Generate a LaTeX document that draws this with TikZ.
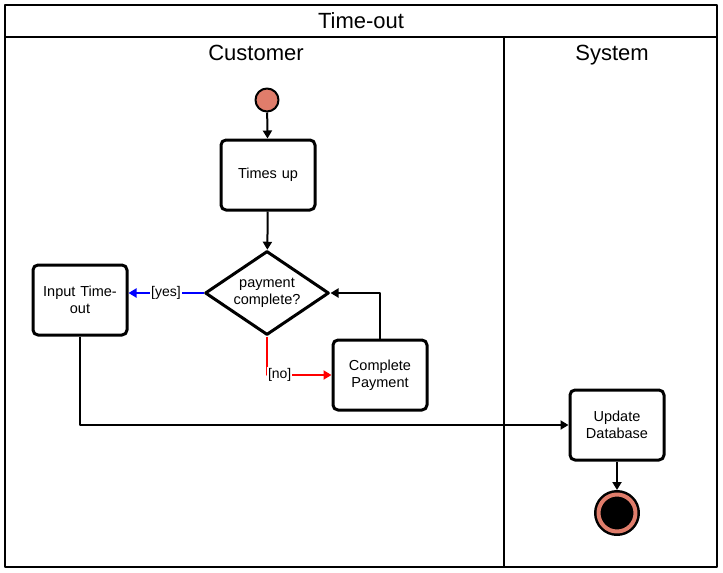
\documentclass[tikz,border=0pt]{standalone}
\usepackage{fontspec}
\setmainfont{Liberation Sans}
\usetikzlibrary{arrows.meta,shapes.geometric}
\definecolor{salmon}{RGB}{224,125,107}
\begin{document}
\begin{tikzpicture}[x=1pt,y=-1pt, line join=round, >={Triangle[length=8pt,width=9pt]},
	act/.style={draw, line width=3pt, rounded corners=5pt, minimum width=94pt, minimum height=70pt, text width=80pt, align=center, inner sep=0pt, outer sep=1.5pt, font=\fontsize{14.5}{17.5}\selectfont},
	decision/.style={draw, diamond, aspect=1.47, line width=3pt, minimum width=124pt, minimum height=84pt, inner sep=0pt, align=center, outer sep=1.5pt, font=\fontsize{14.5}{17.5}\selectfont},
	guard/.style={fill=white, inner sep=1pt, text=black, font=\fontsize{14}{16}\selectfont},
	flow/.style={line width=2pt},
	lanetitle/.style={text height=15pt, text depth=4pt, font=\fontsize{22}{25}\selectfont}]
	\useasboundingbox (0,0) rectangle (723,573);
	% swimlanes
	\draw[line width=2pt] (5,5) rectangle (717,567)
	(5,37)--(717,37)
	(504,37)--(504,567);
	\path
	(361,23) node[lanetitle] (pool) {Time-out}
	(256,55) node[lanetitle] (customer) {Customer}
	(612,55) node[lanetitle] (system) {System};
	% nodes
	\node[circle, draw, line width=2pt, fill=salmon, minimum size=23pt, inner sep=0pt] (start) at (267,100) {};
	\node[act] (timesup) at (268,175) {Times up};
	\node[decision] (decide) at (267,293) {payment\\complete?};
	\node[act] (input) at (80,300) {Input Time-\\out};
	\node[act] (pay) at (380,375) {Complete\\Payment};
	\node[act] (update) at (617,425) {Update\\Database};
	\node[circle, draw=black, double=salmon, double distance=4pt, line width=2.5pt, fill=black, minimum size=37pt, inner sep=0pt, outer sep=4.5pt] (finish) at (617,513) {};
	% edges
	\draw[flow,->] (start)--(timesup);
	\draw[flow,->] (timesup)--(decide);
	\draw[flow,->,blue] (decide.west)-- node[guard] {[yes]} (decide.west -| input.east);
	\draw[flow,->,red] (decide.south) |- node[guard, anchor=west, xshift=-1pt] {[no]} (pay);
	\draw[flow,->] (pay.north) |- (decide.east);
	\draw[flow,->] (input.south) |- (update.west);
	\draw[flow,->] (update)--(finish);
\end{tikzpicture}
\end{document}
